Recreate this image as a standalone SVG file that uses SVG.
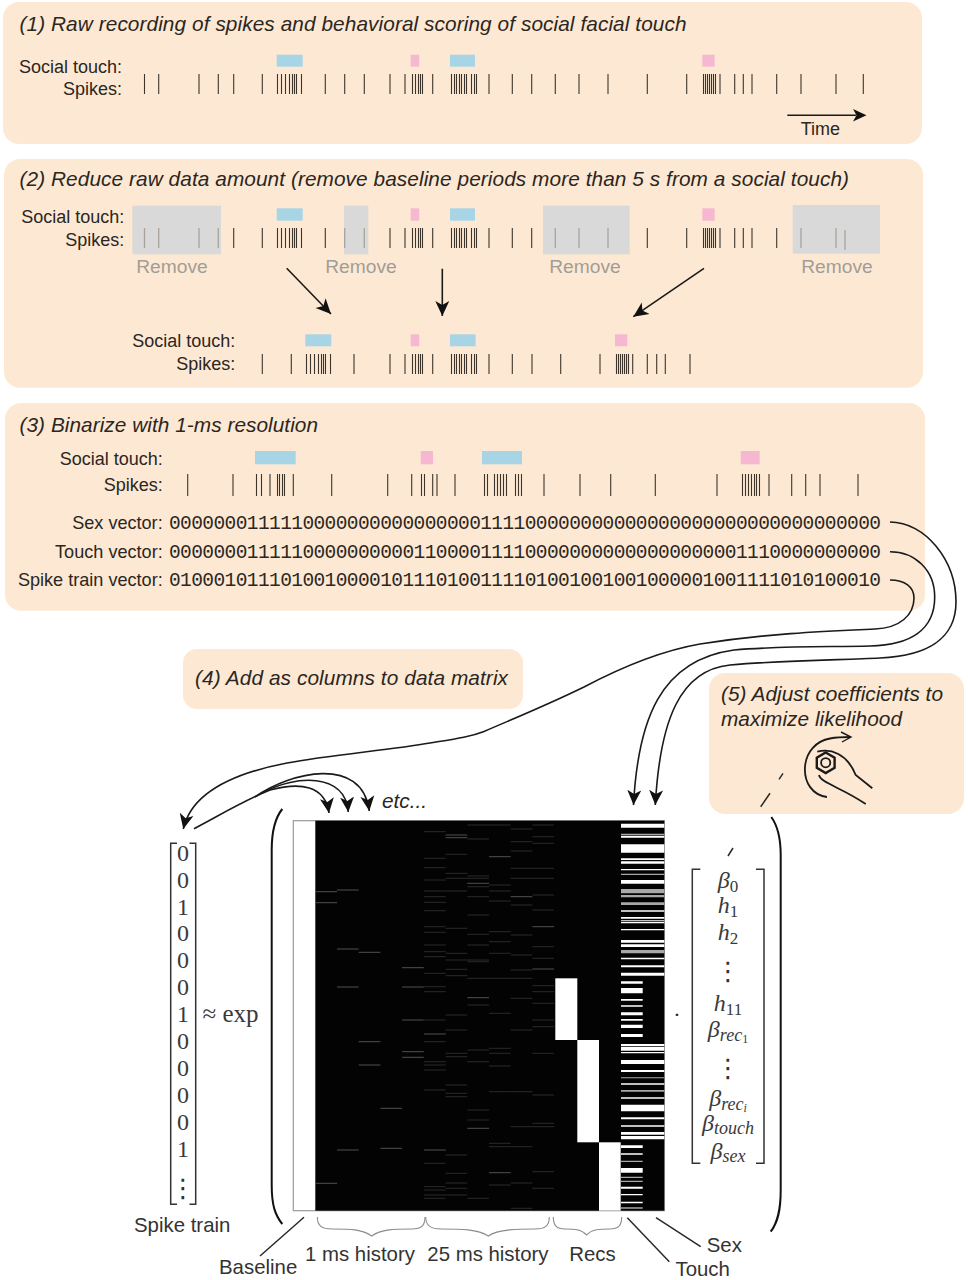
<svg xmlns="http://www.w3.org/2000/svg" width="968" height="1280" viewBox="0 0 968 1280">
<style>
text{font-family:"Liberation Sans",Arial,sans-serif;fill:#2b2622}
.panel{fill:#fde9d3}
.title{font-size:20.8px;font-style:italic}
.lab{font-size:18px;text-anchor:end}
.lab3{font-size:18.1px;text-anchor:end}
.vec{font-family:"Liberation Mono",monospace;font-size:19.5px}
.rm{font-size:19.2px;fill:#a19d97;text-anchor:middle}
.spk{fill:none;stroke:#3d352b;stroke-width:1.1}
.spkg{fill:none;stroke:#a8a49c;stroke-width:1.3}
.blue{fill:#a8d5e5}
.pink{fill:#f5b8d0}
.grey{fill:#d9d9d9}
.wire{fill:none;stroke:#1a1a1a;stroke-width:1.6}
.arrow{fill:none;stroke:#1a1a1a;stroke-width:1.6;marker-end:url(#ah)}
.lead{fill:none;stroke:#2a2a2a;stroke-width:1.5}
.brace{fill:none;stroke:#8c8c8c;stroke-width:1.1}
.brk{fill:none;stroke:#333;stroke-width:1.5}
.paren{fill:none;stroke:#111;stroke-width:2}
.sm{font-size:20.4px;fill:#333}
.cm{font-family:"Liberation Serif",serif;font-size:24px;fill:#3a3a3a;text-anchor:middle}
.mi{font-family:"Liberation Serif",serif;font-size:24px;font-style:italic;fill:#3a3a3a;text-anchor:middle}
.vd{font-family:"DejaVu Sans",sans-serif;font-size:26px;fill:#333;text-anchor:middle}
</style>
<defs>
<marker id="ah" markerUnits="userSpaceOnUse" markerWidth="18" markerHeight="18" refX="15" refY="8" orient="auto"><path d="M0 1L15 8L0 15L4 8z" fill="#111"/></marker>
</defs>

<g id="panel1">
<rect class="panel" x="3" y="2" width="919" height="142" rx="16"/>
<text class="title" x="19.5" y="30.7" textLength="667">(1) Raw recording of spikes and behavioral scoring of social facial touch</text>
<text class="lab" x="122" y="72.7">Social touch:</text>
<text class="lab" x="122" y="95">Spikes:</text>
<rect class="blue" x="276.7" y="54.7" width="26" height="12"/><rect class="pink" x="410.7" y="54.7" width="8.5" height="12"/><rect class="blue" x="450" y="54.7" width="25" height="12"/><rect class="pink" x="702.3" y="54.7" width="12.4" height="12"/>
<path class="spk" d="M144.5 74v20M158.7 74v20M199 74v20M218.3 74v20M233.7 74v20M262.3 74v20M277.5 74v20M281.5 74v20M285.5 74v20M289.5 74v20M292.5 74v20M294.5 74v20M296.5 74v20M301.5 74v20M325.3 74v20M344.7 74v20M364.3 74v20M390 74v20M405 74v20M412.5 74v20M415.5 74v20M418.5 74v20M420.5 74v20M422.5 74v20M432.7 74v20M451.5 74v20M454.5 74v20M456.5 74v20M459.5 74v20M461.5 74v20M464.5 74v20M466.5 74v20M471.5 74v20M474.5 74v20M476.5 74v20M489 74v20M512.3 74v20M531.7 74v20M555.3 74v20M579 74v20M608 74v20M647.3 74v20M686.7 74v20M703.5 74v20M705.5 74v20M707.5 74v20M709.5 74v20M711.5 74v20M713.5 74v20M715.5 74v20M720 74v20M734.7 74v20M743.3 74v20M752 74v20M776.7 74v20M801 74v20M836 74v20M863.3 74v20"/>
<path d="M787.3 115.3H856" class="wire"/><path d="M866.5 115.3L853 109L856.5 115.3L853 121.6z" fill="#111"/>
<text x="800.7" y="135" font-size="18">Time</text>
</g>

<g id="panel2">
<rect class="panel" x="4" y="159" width="919" height="228.7" rx="16"/>
<text class="title" x="19.5" y="185.7" textLength="829.5">(2) Reduce raw data amount (remove baseline periods more than 5 s from a social touch)</text>
<text class="lab" x="124.3" y="223.3">Social touch:</text>
<text class="lab" x="124.3" y="245.7">Spikes:</text>
<rect class="grey" x="132.3" y="205.7" width="88.7" height="48.6"/><rect class="grey" x="344" y="205.7" width="24.3" height="48.6"/><rect class="grey" x="543" y="205.7" width="86.7" height="48.6"/><rect class="grey" x="792.7" y="205" width="87.3" height="48.6"/>
<rect class="blue" x="276.7" y="208.3" width="26" height="12.4"/><rect class="pink" x="410.7" y="208.3" width="8.5" height="12.4"/><rect class="blue" x="450" y="208.3" width="25" height="12.4"/><rect class="pink" x="702.3" y="208.3" width="12.4" height="12.4"/>
<path class="spkg" d="M144.5 228v20M158.7 228v20M199 228v20M218.3 228v20M344.7 228v20M364.3 228v20M555.3 228v20M579 228v20M608 228v20M801 228v20M836 228v20M845 230v20"/>
<path class="spk" d="M233.7 228v20M262.3 228v20M277.5 228v20M281.5 228v20M285.5 228v20M289.5 228v20M292.5 228v20M294.5 228v20M296.5 228v20M301.5 228v20M325.3 228v20M390 228v20M405 228v20M412.5 228v20M415.5 228v20M418.5 228v20M420.5 228v20M422.5 228v20M432.7 228v20M451.5 228v20M454.5 228v20M456.5 228v20M459.5 228v20M461.5 228v20M464.5 228v20M466.5 228v20M471.5 228v20M474.5 228v20M476.5 228v20M489 228v20M512.3 228v20M531.7 228v20M647.3 228v20M686.7 228v20M703.5 228v20M705.5 228v20M707.5 228v20M709.5 228v20M711.5 228v20M713.5 228v20M715.5 228v20M720 228v20M734.7 228v20M743.3 228v20M752 228v20M776.7 228v20"/>
<text class="rm" x="172" y="273">Remove</text><text class="rm" x="361" y="273">Remove</text><text class="rm" x="585" y="273">Remove</text><text class="rm" x="837" y="273">Remove</text>
<text class="lab" x="235.3" y="347.3">Social touch:</text>
<text class="lab" x="235.3" y="370">Spikes:</text>
<rect class="blue" x="305.3" y="334.3" width="26" height="12"/><rect class="pink" x="410.7" y="334.3" width="8.5" height="12"/><rect class="blue" x="450" y="334.3" width="25.6" height="12"/><rect class="pink" x="615" y="334.3" width="12.3" height="12"/>
<path class="spk" d="M262.3 354v20M291.3 354v20M306.5 354v20M310.5 354v20M314.5 354v20M318.5 354v20M321.5 354v20M323.5 354v20M325.5 354v20M330.5 354v20M354 354v20M390 354v20M405 354v20M412.5 354v20M415.5 354v20M418.5 354v20M420.5 354v20M422.5 354v20M432.7 354v20M451.5 354v20M454.5 354v20M456.5 354v20M459.5 354v20M461.5 354v20M464.5 354v20M466.5 354v20M471.5 354v20M474.5 354v20M476.5 354v20M489 354v20M512.3 354v20M532 354v20M560.7 354v20M600 354v20M616.5 354v20M618.5 354v20M620.5 354v20M622.5 354v20M624.5 354v20M626.5 354v20M628.5 354v20M632.7 354v20M647.3 354v20M656.7 354v20M665.3 354v20M690 354v20"/>
</g>

<g id="panel3">
<rect class="panel" x="5" y="403" width="920" height="207.7" rx="16"/>
<text class="title" x="19.5" y="431.7" textLength="298.5">(3) Binarize with 1-ms resolution</text>
<text class="lab" x="162.7" y="465">Social touch:</text>
<text class="lab" x="162.7" y="490.7">Spikes:</text>
<rect class="blue" x="255" y="451" width="40.7" height="13.3"/><rect class="pink" x="420.7" y="451" width="12.3" height="13.3"/><rect class="blue" x="482" y="451" width="40" height="13.3"/><rect class="pink" x="740.7" y="451" width="19" height="13.3"/>
<path class="spk" d="M187.7 474v22M233 474v22M256.5 474v22M261.5 474v22M270 474v22M277.5 474v22M279.5 474v22M282.5 474v22M284.5 474v22M293.3 474v22M331.7 474v22M387.7 474v22M411.7 474v22M421.5 474v22M424.5 474v22M432.7 474v22M437 474v22M455 474v22M484.5 474v22M487.5 474v22M494.5 474v22M497.5 474v22M500.5 474v22M503.5 474v22M506.5 474v22M515.5 474v22M518.5 474v22M521.5 474v22M544 474v22M580 474v22M610.7 474v22M655.3 474v22M717 474v22M742.5 474v22M745.5 474v22M748.5 474v22M751.5 474v22M754.5 474v22M756.5 474v22M759.5 474v22M769 474v22M791.7 474v22M805.7 474v22M820 474v22M858 474v22"/>
<text class="lab3" x="162.7" y="529">Sex vector:</text>
<text class="lab3" x="162.7" y="557.7">Touch vector:</text>
<text class="lab3" x="162.7" y="586">Spike train vector:</text>
<text class="vec" x="169" y="529" textLength="712">0000000111110000000000000000111100000000000000000000000000000000</text>
<text class="vec" x="169" y="557.7" textLength="712">0000000111110000000000110000111100000000000000000001110000000000</text>
<text class="vec" x="169" y="586" textLength="712">0100010111010010000101110100111101001001001000001001111010100010</text>
</g>

<g id="panel4">
<rect class="panel" x="183" y="649" width="340" height="60" rx="14"/>
<text class="title" x="195" y="685" textLength="313">(4) Add as columns to data matrix</text>
</g>

<g id="panel5">
<rect class="panel" x="709" y="673" width="255" height="141" rx="16"/>
<text class="title" x="721" y="700.5" textLength="222">(5) Adjust coefficients to</text>
<text class="title" x="721" y="726" textLength="181">maximize likelihood</text>
<g id="wrench" fill="none" stroke="#1a1a1a" stroke-width="1.8">
<path d="M827 797C812 795 804 782 805 767C806 752 816 741 830 738.5C838 737 844 737 850 737"/>
<path d="M841 732L851 737L842 742" stroke-width="1.4"/>
<path d="M825.7 752.5L834.6 757.6V767.8L825.7 773L816.8 767.8V757.6z" stroke-width="2.4"/>
<circle cx="825.7" cy="762.7" r="4.6"/>
<path d="M817.3 751.7C830.7 748.3 847 753.3 855.7 775L872.3 788.3"/>
<path d="M819 775C820.7 783 840.7 787 865.7 804"/>
</g>
</g>

<g id="connectors">
<path class="arrow" d="M286.7 268.3L331 314"/>
<path class="arrow" d="M442.3 268.7V316"/>
<path class="arrow" d="M704 268.3L633.3 316.7"/>
<path class="arrow" d="M890 522C925 522 956 560 956 602C956 640 925 656 880 658C840 660 790 660 730 665C680 670 660 720 655.3 805"/>
<path class="arrow" d="M890 551.7C915 551.7 934.7 570 934.7 597C934.7 630 910 645 870 646C825 647 780 646 734 650C660 660 638 720 633.5 805"/>
<path class="arrow" d="M890 580C905 580 914 587 914 598C914 615 900 628 875 629C830 631 770 633 700 644C660 651 620 668 584 687C545 706 515 718 484 731.5C470 737 455 739 430 743C390 750 330 755 287 763C240 772 192 790 183.3 829"/>
<path class="wire" d="M194 828.7C220 815 245 800 270 790"/>
<path class="arrow" d="M270 790C300 782 325 785 329 813"/>
<path class="arrow" d="M262 793C295 775 345 772 348.3 812"/>
<path class="arrow" d="M255 797C290 772 362 755 369.3 811"/>
<path class="lead" d="M304 1217.3L260 1256M627.3 1217.7L669.3 1261.7M656 1217.7L700.7 1246.7"/>
<path class="lead" d="M783 773.3L779 779.3M770 793.3L760.7 806.7M733 848L728 856"/>
<path class="brace" d="M317.3 1217C317.3 1226 322 1229 332 1229C350 1229 362 1229 371.7 1236C381 1229 395 1229 412 1229C421 1229 425 1226 425 1217"/>
<path class="brace" d="M425.7 1217C425.7 1226 431 1229 441 1229C460 1229 478 1229 488.3 1236C498 1229 520 1229 535 1229C545 1229 549.3 1226 549.3 1217"/>
<path class="brace" d="M553.3 1217C553.3 1226 557 1229 565 1229C574 1229 581 1229 586.7 1235C592 1229 600 1229 610 1229C618 1229 621.7 1226 621.7 1217"/>
</g>

<g id="spike-train-vector">
<path class="brk" d="M177 843.3H170.7V1204.3H177M189.5 843.3H195.7V1204.3H189.5"/>
<text class="cm" x="183" y="860.7">0</text><text class="cm" x="183" y="887.6">0</text><text class="cm" x="183" y="914.5">1</text><text class="cm" x="183" y="941.4">0</text><text class="cm" x="183" y="968.3">0</text><text class="cm" x="183" y="995.2">0</text><text class="cm" x="183" y="1022">1</text><text class="cm" x="183" y="1049">0</text><text class="cm" x="183" y="1076">0</text><text class="cm" x="183" y="1103">0</text><text class="cm" x="183" y="1130">0</text><text class="cm" x="183" y="1157">1</text>
<text class="vd" x="183" y="1197">⋮</text>
<text class="sm" x="134" y="1232">Spike train</text>
</g>

<g id="approx-exp">
<text x="202.5" y="1022" style="font-family:'Liberation Serif',serif;font-size:25px;fill:#3a3a3a">≈ exp</text>
</g>

<g id="parens">
<path class="paren" d="M282.3 809C275 818 271.7 830 271.7 850V1185C271.7 1205 275 1215 282.3 1224"/>
<path class="paren" d="M771.3 817C777 825 780.7 838 780.7 855V1190C780.7 1210 778 1222 770.7 1231.7"/>
</g>

<g id="design-matrix">
<rect x="293.3" y="820.7" width="371" height="390" fill="#fff" stroke="#9a9a9a" stroke-width="1.2"/>
<rect x="315.3" y="820.7" width="349" height="390" fill="#030303"/>
<path fill="none" stroke="#505050" stroke-width="1" d="M315.3 891.7h21.7M315.3 902.7h21.7M315.3 1183.3h21.7M337 890h21.7M337 949h21.7M337 987h21.7M337 1150h21.7M358.7 952.3h21.7M358.7 1041.7h21.7M358.7 1065h21.7M380.4 1108.3h21.7M380.4 1148.3h21.7M402.1 967.7h21.7M402.1 987h21.7M402.1 1020h21.7M402.1 1051.7h21.7M402.1 1057.3h21.7M424 1034h21.7M424 1150h21.7M445.6 835h21.7M445.6 837.7h21.7M467.3 883.3h21.7M467.3 1128.3h21.7M489 856.7h21.7M489 1172.7h21.7M532.4 926.7h21.7M532.4 969h21.7M467.3 997.7h21.7M510.7 896.7h21.7"/>
<path fill="none" stroke="#2a2a2a" stroke-width="1" d="M424 831.7h21.7M424 858.3h21.7M424 867.7h21.7M424 880h21.7M424 891h21.7M424 896.7h21.7M424 902.3h21.7M424 910.7h21.7M424 926.7h21.7M424 932.3h21.7M424 945h21.7M424 951.7h21.7M424 956.7h21.7M424 973.3h21.7M424 986.7h21.7M424 991.7h21.7M424 1020h21.7M424 1041.7h21.7M424 1061.7h21.7M424 1065h21.7M424 1070h21.7M424 1090h21.7M424 1163.3h21.7M424 1186.7h21.7M424 1190h21.7M424 1195h21.7M424 1198.3h21.7M445.6 854.3h21.7M445.6 873.3h21.7M445.6 878.3h21.7M445.6 891h21.7M445.6 928.3h21.7M445.6 953.3h21.7M445.6 960h21.7M445.6 969.3h21.7M445.6 975.7h21.7M445.6 1015h21.7M445.6 1030h21.7M445.6 1053.3h21.7M445.6 1056.7h21.7M445.6 1085h21.7M445.6 1093.3h21.7M445.6 1096.7h21.7M445.6 1155h21.7M445.6 1173.3h21.7M445.6 1183h21.7M445.6 1188.3h21.7M445.6 1195h21.7M467.3 825h21.7M467.3 839h21.7M467.3 876h21.7M467.3 878.3h21.7M467.3 886.7h21.7M467.3 896.7h21.7M467.3 915h21.7M467.3 934.3h21.7M467.3 945h21.7M467.3 960h21.7M467.3 961.7h21.7M467.3 978.3h21.7M467.3 1005h21.7M467.3 1050h21.7M467.3 1061.7h21.7M467.3 1110h21.7M467.3 1120h21.7M467.3 1198.3h21.7M489 825h21.7M489 885h21.7M489 891h21.7M489 901h21.7M489 931.7h21.7M489 941.7h21.7M489 953.3h21.7M489 978.3h21.7M489 1013.3h21.7M489 1048.3h21.7M489 1053.3h21.7M489 1066h21.7M489 1091.7h21.7M489 1143.3h21.7M489 1146.7h21.7M489 1185h21.7M510.7 829h21.7M510.7 841.7h21.7M510.7 851h21.7M510.7 868.3h21.7M510.7 878.3h21.7M510.7 905h21.7M510.7 935h21.7M510.7 955h21.7M510.7 970h21.7M510.7 978.3h21.7M510.7 998.3h21.7M510.7 1030h21.7M510.7 1091.7h21.7M510.7 1126.7h21.7M510.7 1146.7h21.7M510.7 1183h21.7M510.7 1208.3h21.7M532.4 825h21.7M532.4 836.7h21.7M532.4 843.3h21.7M532.4 868.3h21.7M532.4 878.3h21.7M532.4 895h21.7M532.4 910h21.7M532.4 946.7h21.7M532.4 958.3h21.7M532.4 985.7h21.7M532.4 991.7h21.7M532.4 1003.3h21.7M532.4 1020h21.7M532.4 1026.7h21.7M532.4 1053.3h21.7M532.4 1095h21.7M532.4 1123.3h21.7M532.4 1126.7h21.7M532.4 1171.7h21.7M532.4 1188.3h21.7"/>
<rect x="555.3" y="978.3" width="22" height="61.7" fill="#fff"/><rect x="577.3" y="1040" width="21.7" height="102.3" fill="#fff"/><rect x="599" y="1142.3" width="21.7" height="68.4" fill="#fff"/>
<path fill="#fff" d="M621 823.7H664.3V827.7H621zM621 835.7H664.3V837.7H621zM621 844.3H664.3V852.7H621zM621 858.3H664.3V860H621zM621 861.3H664.3V863.7H621zM621 869H664.3V870.3H621zM621 880H664.3V883.7H621zM621 910.3H664.3V911.7H621zM621 917H664.3V918.7H621zM621 920.3H664.3V921.3H621zM621 922H664.3V923.3H621zM621 929H664.3V930.3H621zM621 940H664.3V942.7H621zM621 944.3H664.3V947H621zM621 957.7H664.3V959.3H621zM621 965.3H664.3V967.3H621zM621 972.7H664.3V975.7H621zM621 981.3H642.7V983.7H621zM621 988H642.7V993.3H621zM621 999H642.7V1000.7H621zM621 1005.3H642.7V1006.7H621zM621 1012.3H642.7V1015.3H621zM621 1019H642.7V1020.7H621zM621 1024.7H642.7V1028H621zM621 1034H642.7V1037H621zM621 1044H664.3V1046H621zM621 1046.7H664.3V1050.7H621zM621 1052H664.3V1053.3H621zM621 1060H664.3V1064H621zM621 1070H664.3V1072H621zM621 1083.3H664.3V1084.7H621zM621 1097.3H664.3V1098.7H621zM621 1104.7H664.3V1111.3H621zM621 1117.3H664.3V1119.3H621zM621 1125.3H664.3V1126.7H621zM621 1132H664.3V1134.7H621zM621 1136H664.3V1139.3H621zM621 1145.3H642.7V1148H621zM621 1153.3H642.7V1154.7H621zM621 1168H642.7V1172.7H621zM621 1186.7H642.7V1188.7H621zM621 1194H642.7V1195.3H621zM621 1201.7H642.7V1203.3H621z"/>
<path fill="#a8a8a8" d="M621 833.7H664.3V835H621zM621 873.7H664.3V875H621zM621 889H664.3V893.3H621zM621 895H664.3V897.3H621zM621 902.3H664.3V905H621zM621 950H664.3V953.3H621zM621 1077.3H664.3V1078.3H621zM621 1090H664.3V1091.7H621zM621 1160.7H642.7V1162H621zM621 1176.7H642.7V1178H621zM621 1180.7H642.7V1182H621zM621 1207.3H642.7V1208.7H621z"/>
</g>

<g id="etc-label"><text x="382" y="808" font-size="20.8" font-style="italic">etc...</text></g>
<g id="dot"><text x="677" y="1022" style="font-family:'Liberation Serif',serif;font-size:22px;text-anchor:middle;fill:#222">·</text></g>

<g id="coefficient-vector">
<path class="brk" d="M700.3 869.3H692.3V1163.3H700.3M756 869.3H764V1163.3H756"/>
<text class="mi" x="728" y="888">β<tspan dy="4" font-size="17" font-style="normal">0</tspan></text>
<text class="mi" x="728" y="913">h<tspan dy="4" font-size="17" font-style="normal">1</tspan></text>
<text class="mi" x="728" y="940">h<tspan dy="4" font-size="17" font-style="normal">2</tspan></text>
<text class="vd" x="728" y="980">⋮</text>
<text class="mi" x="728" y="1011">h<tspan dy="4" font-size="17" font-style="normal">11</tspan></text>
<text class="mi" x="728" y="1037">β<tspan dy="4" font-size="18">rec</tspan><tspan dy="2" font-size="12" font-style="normal">1</tspan></text>
<text class="vd" x="728" y="1077">⋮</text>
<text class="mi" x="728" y="1106">β<tspan dy="4" font-size="18">rec</tspan><tspan dy="2" font-size="12">i</tspan></text>
<text class="mi" x="728" y="1131">β<tspan dy="3" font-size="18">touch</tspan></text>
<text class="mi" x="728" y="1159">β<tspan dy="3" font-size="18">sex</tspan></text>
</g>

<g id="axis-labels">
<text class="sm" x="219" y="1274">Baseline</text>
<text class="sm" x="305" y="1260.7">1 ms history</text>
<text class="sm" x="427.3" y="1260.7">25 ms history</text>
<text class="sm" x="569.3" y="1260.7">Recs</text>
<text class="sm" x="706.7" y="1251.7">Sex</text>
<text class="sm" x="675.5" y="1276">Touch</text>
</g>
</svg>
